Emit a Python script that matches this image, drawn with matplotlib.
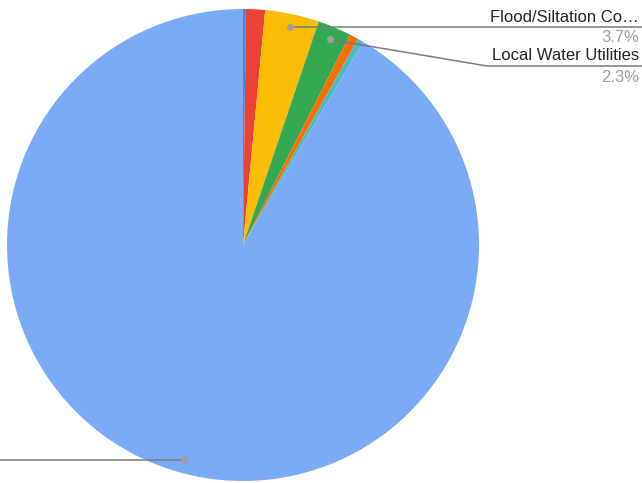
import numpy as np
import matplotlib
matplotlib.use("Agg")
import matplotlib.pyplot as plt

# Share of spending by category (percent)
categories = ["Other A", "Other B", "Flood/Siltation Co\u2026", "Local Water Utilities",
              "Other C", "Other D", "Other E"]
shares = [0.2, 1.3, 3.7, 2.3, 0.6, 0.4, 91.5]
colors = ["#4285F4", "#EA4335", "#FBBC04", "#34A853", "#FF6D01", "#46BDC6", "#7BAAF7"]
pct_labels = ["", "", "3.7%", "2.3%", "", "", ""]

W, H = 642, 483
fig = plt.figure(figsize=(W / 100, H / 100), dpi=100)
ax = fig.add_axes([0, 0, 1, 1])

cx, cy, R = 243, H - 245, 236
wedges, _ = ax.pie(shares, colors=colors, startangle=90, counterclock=False,
                   center=(cx, cy), radius=R, frame=True,
                   wedgeprops=dict(linewidth=0))
ax.set_xlim(0, W)
ax.set_ylim(0, H)
ax.set_aspect("equal")
ax.axis("off")

plt.rcParams["font.family"] = ["Liberation Sans", "DejaVu Sans"]
line_c = "#7a7a7a"
dot_c = "#9e9e9e"
fs = 12

def anchor(i, frac=0.945):
    w = wedges[i]
    mid = np.deg2rad((w.theta1 + w.theta2) / 2)
    return cx + frac * R * np.cos(mid), cy + frac * R * np.sin(mid)

# Flood/Siltation label (straight horizontal leader)
x0, y0 = anchor(2)
ax.plot([x0, W], [y0, y0], color=line_c, lw=1.1, solid_capstyle="butt")
ax.plot(x0, y0, "o", color=dot_c, ms=5, mec="none")
ax.text(639, H - 17, categories[2], ha="right", va="center", fontsize=fs, color="#222222")
ax.text(639, H - 38, pct_labels[2], ha="right", va="center", fontsize=fs, color="#9e9e9e")

# Local Water Utilities label (bent leader)
x1, y1 = anchor(3)
ax.plot([x1, 487, W], [y1, H - 66, H - 66], color=line_c, lw=1.1)
ax.plot(x1, y1, "o", color=dot_c, ms=5, mec="none")
ax.text(639, H - 55, categories[3], ha="right", va="center", fontsize=fs, color="#222222")
ax.text(639, H - 77, pct_labels[3], ha="right", va="center", fontsize=fs, color="#9e9e9e")

# Largest slice leader running off the left edge
x2, y2 = anchor(6)
ax.plot([x2, 0], [y2, y2], color=line_c, lw=1.1)
ax.plot(x2, y2, "o", color=dot_c, ms=5, mec="none")

fig.savefig("out.png", dpi=100)
